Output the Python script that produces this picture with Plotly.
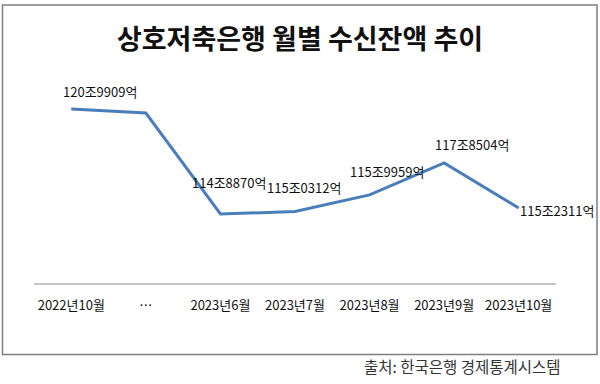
import plotly.graph_objects as go

# ---- data ----
categories = ["2022년10월", "…", "2023년6월", "2023년7월", "2023년8월", "2023년9월", "2023년10월"]
values = [120.9909, 120.75, 114.8870, 115.0312, 115.9959, 117.8504, 115.2311]
value_labels = ["120조9909억", "", "114조8870억", "115조0312억", "115조9959억", "117조8504억", "115조2311억"]
title_text = "상호저축은행 월별 수신잔액 추이"
source_text = "출처: 한국은행 경제통계시스템"

# ---- layout geometry (pixels) ----
W, H = 600, 384
L, R, T, B = 34, 44, 80, 101
PW, PH = W - L - R, H - T - B
FONT = "Noto Sans CJK KR"

def px(x):
    return (x - L) / PW

def py(y):
    return (H - B - y) / PH

# label offsets (dx, dy) in screen pixels relative to each point
label_offsets = [(29, -17), (0, 0), (9, -32), (9, -24), (17, -23), (28, -18), (38, 2)]

fig = go.Figure()
fig.add_trace(go.Scatter(
    x=categories, y=values, mode="lines",
    line=dict(color="#4A7EBB", width=3),
    hoverinfo="skip", showlegend=False,
))

annotations = []
for c, v, t, (dx, dy) in zip(categories, values, value_labels, label_offsets):
    if not t:
        continue
    annotations.append(dict(
        x=c, y=v, xref="x", yref="y", text=t, showarrow=False,
        xshift=dx, yshift=-dy, xanchor="center", yanchor="middle",
        font=dict(family=FONT, size=13, color="#111111"),
    ))

annotations.append(dict(
    x=px(563), y=py(366), xref="paper", yref="paper", text=source_text,
    showarrow=False, xanchor="right", yanchor="middle",
    font=dict(family=FONT, size=15.5, color="#333333"),
))

fig.update_layout(
    width=W, height=H,
    margin=dict(l=L, r=R, t=T, b=B, pad=0),
    paper_bgcolor="white", plot_bgcolor="white",
    title=dict(text=f"<b>{title_text}</b>", x=0.5, xanchor="center",
               y=1 - 40 / H, yanchor="middle",
               font=dict(family=FONT, size=27, color="#111111")),
    xaxis=dict(type="category", range=[-0.5, len(categories) - 0.5],
               showgrid=False, zeroline=False, showline=True,
               linecolor="#C4C4C4", linewidth=1.5,
               ticks="outside", ticklen=10, tickcolor="rgba(0,0,0,0)",
               tickfont=dict(family=FONT, size=13, color="#111111")),
    yaxis=dict(range=[110.88, 122.67], visible=False, showgrid=False, zeroline=False),
    annotations=annotations,
    shapes=[dict(type="rect", xref="paper", yref="paper",
                 x0=px(2.5), x1=px(597), y0=py(5), y1=py(354.5),
                 line=dict(color="#7F7F7F", width=1.5), fillcolor="rgba(0,0,0,0)",
                 layer="below")],
    font=dict(family=FONT),
)

fig.write_html("out.html", config={"displayModeBar": False},
               post_script="document.body.style.margin='0';")
